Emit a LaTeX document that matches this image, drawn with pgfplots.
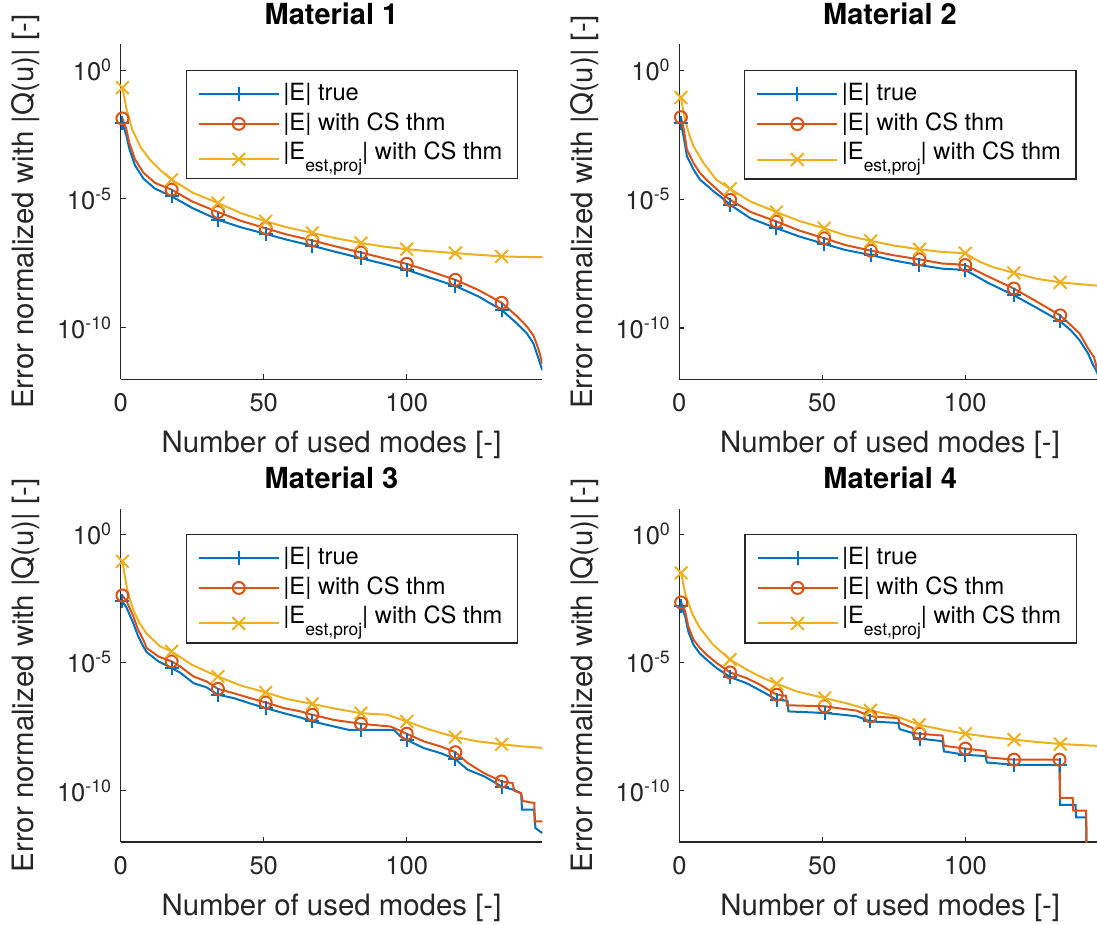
\documentclass[border=0pt]{standalone}
\usepackage{fontspec}
\setmainfont{TeX Gyre Heros}
\usepackage{pgfplots}
\pgfplotsset{compat=1.18}
\definecolor{mblue}{RGB}{0,114,189}
\definecolor{mred}{RGB}{217,83,25}
\definecolor{myel}{RGB}{237,177,32}
\definecolor{axcol}{RGB}{38,38,38}
\pgfplotsset{
  legend image code/.code={\draw[mark repeat=2,mark phase=2,#1] plot coordinates {(0pt,0pt) (40pt,0pt) (80pt,0pt)};},
  every axis/.append style={
    scale only axis,
    width=421.6pt,
    xmin=0, xmax=147.4,
    ymin=1e-12, ymax=10,
    axis x line*=bottom, axis y line*=left,
    axis line style={draw=axcol, line width=1.2pt},
    xtick={0,50,100}, xticklabels={0,50,100},
    ytick={1e-10,1e-5,1},
    yticklabels={10\textsuperscript{-10},10\textsuperscript{-5},10\textsuperscript{0}},
    xminorticks=false, yminorticks=false,
    tick align=inside, major tick length=5pt,
    every tick/.style={draw=axcol, line width=1.1pt},
    tick label style={font=\fontsize{25.5}{25.5}\selectfont, text=axcol},
    xticklabel style={yshift=-10.5pt},
    yticklabel style={xshift=-5.5pt},
    xlabel={Number of used modes [-]},
    ylabel={Error normalized with |Q(u)| [-]},
    label style={font=\fontsize{29.4}{30}\selectfont, text=axcol},
    xlabel style={at={(axis description cs:0.5,0)}, anchor=base, yshift=-73pt},
    ylabel style={at={(axis description cs:-0.2068,0.5)}, anchor=base},
    title style={font=\bfseries\fontsize{29}{30}\selectfont, at={(axis description cs:0.5,1)}, anchor=base, yshift=14pt},
    legend style={
      at={(axis description cs:0.9424,0.9233)}, anchor=north east,
      draw=axcol, line width=1.2pt, fill=white,
      font=\fontsize{23.7}{24}\selectfont,
      inner xsep=11.5pt, inner ysep=9.5pt,
      nodes={inner xsep=3.5pt, inner ysep=2.65pt, text height=17.8pt, text depth=5.2pt},
      row sep=1.3pt,
    },
    legend cell align=left,
  },
  linB/.style={color=mblue, line width=2pt, mark=none, forget plot},
  linR/.style={color=mred, line width=2pt, mark=none, forget plot},
  linY/.style={color=myel, line width=2pt, mark=none, forget plot},
  mrkB/.style={color=mblue, line width=2pt, only marks, mark=+, mark size=7pt, forget plot},
  mrkR/.style={color=mred, line width=2pt, only marks, mark=o, mark size=6pt, forget plot},
  mrkY/.style={color=myel, line width=2pt, only marks, mark=x, mark size=9pt, forget plot},
}
\newcommand{\legs}{%
  \addlegendimage{color=mblue, line width=2pt, mark=+, mark size=7pt}
  \addlegendentry{|E| true}
  \addlegendimage{color=mred, line width=2pt, mark=o, mark size=6pt}
  \addlegendentry{|E| with CS thm}
  \addlegendimage{color=myel, line width=2pt, mark=x, mark size=9pt, yshift=-5pt}
  \addlegendentry[text depth=7pt]{|E\raisebox{-11.5pt}{\fontsize{17.4}{17.4}\selectfont est,proj}| with CS thm}
}
\begin{document}
\begin{tikzpicture}
\useasboundingbox (0,0) rectangle (1097pt,924pt);
% ---------------- Material 1
\begin{axis}[ymode=log, anchor=south west, at={(120.7pt,544.7pt)}, height=335pt, title={Material 1}]
\addplot[linB] coordinates {(0.6,8.71e-3)(2,2.82e-3)(3,8.91e-4)(5,2.0e-4)(8,6.03e-5)(12,2.51e-5)(17.8,1.26e-5)(25,4.47e-6)(34,1.55e-6)(42,7.94e-7)(50.7,4.37e-7)(58,2.63e-7)(67,1.51e-7)(75,8.91e-8)(84,5.01e-8)(92,3.02e-8)(100,1.78e-8)(108,8.91e-9)(117,4.17e-9)(125,1.66e-9)(133.2,4.9e-10)(138.5,1.48e-10)(142,6.03e-11)(144.3,2.45e-11)(145.5,1e-11)(147.4,2.24e-12)};
\addplot[mrkB] coordinates {(0.6,8.71e-3)(17.8,1.26e-5)(34,1.55e-6)(50.7,4.37e-7)(67,1.51e-7)(84,5.01e-8)(100,1.78e-8)(117,4.17e-9)(133.2,4.9e-10)};
\addplot[linR] coordinates {(0.6,1.32e-2)(2,5.01e-3)(3,1.51e-3)(5,3.39e-4)(8,1.02e-4)(12,4.17e-5)(17.8,2.29e-5)(25,7.94e-6)(34,3.09e-6)(42,1.41e-6)(50.7,7.24e-7)(58,4.17e-7)(67,2.45e-7)(75,1.45e-7)(84,8.32e-8)(92,5.01e-8)(100,3.02e-8)(108,1.58e-8)(117,7.24e-9)(125,2.95e-9)(133.2,9.33e-10)(138.5,2.82e-10)(142,1.12e-10)(144.3,5.01e-11)(145.5,2.24e-11)(146.5,1e-11)(147.4,4.07e-12)};
\addplot[mrkR] coordinates {(0.6,1.32e-2)(17.8,2.29e-5)(34,3.09e-6)(50.7,7.24e-7)(67,2.45e-7)(84,8.32e-8)(100,3.02e-8)(117,7.24e-9)(133.2,9.33e-10)};
\addplot[linY] coordinates {(0.6,2.09e-1)(2,3.16e-2)(4,5.01e-3)(7,1e-3)(10,3.55e-4)(14,1.26e-4)(17.8,5.62e-5)(25,1.78e-5)(34,6.92e-6)(42,2.82e-6)(50.7,1.35e-6)(58,7.94e-7)(67,4.79e-7)(75,3.02e-7)(84,1.95e-7)(92,1.41e-7)(100,1.12e-7)(108,9.33e-8)(117,7.94e-8)(125,6.76e-8)(133.2,5.89e-8)(140,5.62e-8)(147.4,5.5e-8)};
\addplot[mrkY] coordinates {(0.6,2.09e-1)(17.8,5.62e-5)(34,6.92e-6)(50.7,1.35e-6)(67,4.79e-7)(84,1.95e-7)(100,1.12e-7)(117,7.94e-8)(133.2,5.89e-8)};
\legs
\end{axis}
% ---------------- Material 2
\begin{axis}[ymode=log, anchor=south west, at={(679.2pt,544.5pt)}, height=335pt, title={Material 2}]
\addplot[linB] coordinates {(0.6,9.12e-3)(1.6,2.51e-3)(2.7,4.57e-4)(5,1.41e-4)(7.3,5.62e-5)(10,3.16e-5)(12,2.0e-5)(15,1.12e-5)(17.8,6.03e-6)(25,1.78e-6)(34,7.41e-7)(42,3.55e-7)(50.7,1.82e-7)(58,1.07e-7)(67,6.76e-8)(75,4.17e-8)(84,2.75e-8)(92,2.0e-8)(97,1.86e-8)(100,1.78e-8)(108,5.62e-9)(117,1.86e-9)(125,6.03e-10)(133.2,1.82e-10)(137,7.94e-11)(140,3.31e-11)(143,1e-11)(144.5,4.07e-12)(145.8,2.24e-12)(147.4,7.94e-13)};
\addplot[mrkB] coordinates {(0.6,9.12e-3)(17.8,6.03e-6)(34,7.41e-7)(50.7,1.82e-7)(67,6.76e-8)(84,2.75e-8)(100,1.78e-8)(117,1.86e-9)(133.2,1.82e-10)};
\addplot[linR] coordinates {(0.6,1.51e-2)(1.6,5.01e-3)(2.7,8.32e-4)(5,2.51e-4)(7.3,1.02e-4)(10,5.01e-5)(12,3.16e-5)(15,1.58e-5)(17.8,9.33e-6)(25,3.16e-6)(34,1.35e-6)(42,6.03e-7)(50.7,3.02e-7)(58,1.66e-7)(67,1e-7)(75,6.61e-8)(84,4.57e-8)(92,3.16e-8)(97,2.95e-8)(100,2.75e-8)(108,1e-8)(117,3.39e-9)(125,1.05e-9)(133.2,3.09e-10)(137,1.26e-10)(140,6.03e-11)(143,1.58e-11)(145,7.41e-12)(145.8,3.47e-12)(147.4,1.26e-12)};
\addplot[mrkR] coordinates {(0.6,1.51e-2)(17.8,9.33e-6)(34,1.35e-6)(50.7,3.02e-7)(67,1e-7)(84,4.57e-8)(100,2.75e-8)(117,3.39e-9)(133.2,3.09e-10)};
\addplot[linY] coordinates {(0.6,8.71e-2)(2,1.26e-2)(3.5,3.16e-3)(5,1.12e-3)(8.5,2.51e-4)(13,5.62e-5)(17.8,2.51e-5)(25,7.94e-6)(34,3.16e-6)(42,1.41e-6)(50.7,7.41e-7)(58,3.98e-7)(67,2.4e-7)(75,1.58e-7)(84,1.12e-7)(92,8.91e-8)(100,7.94e-8)(105,3.72e-8)(110,2.24e-8)(117,1.38e-8)(125,8.13e-9)(133.2,5.89e-9)(140,5.01e-9)(147.4,4.27e-9)};
\addplot[mrkY] coordinates {(0.6,8.71e-2)(17.8,2.51e-5)(34,3.16e-6)(50.7,7.41e-7)(67,2.4e-7)(84,1.12e-7)(100,7.94e-8)(117,1.38e-8)(133.2,5.89e-9)};
\legs
\end{axis}
% ---------------- Material 3
\begin{axis}[ymode=log, anchor=south west, at={(120.7pt,82pt)}, height=333.5pt, title={Material 3}]
\addplot[linB] coordinates {(0.6,2.4e-3)(2,1.41e-3)(4.4,3.39e-4)(6,1.12e-4)(7.9,4.17e-5)(9.1,2.51e-5)(13.2,1.10e-5)(17.8,6.03e-6)(20.8,3.98e-6)(25.5,1.55e-6)(30,1.07e-6)(34,5.5e-7)(39.5,4.07e-7)(45.3,2.51e-7)(50.7,1.66e-7)(57,1.05e-7)(62.9,7.08e-8)(67,5.01e-8)(72,3.72e-8)(79.8,2.34e-8)(95.5,2.34e-8)(97.9,1.29e-8)(100,9.55e-9)(106,4.57e-9)(112,2.88e-9)(117,1.70e-9)(121.3,6.61e-10)(127.1,3.63e-10)(133.2,1.45e-10)(137.6,1.07e-10)(140,7.94e-11)(140.3,1.82e-11)(144.6,1.82e-11)(145,3.47e-12)(147.4,2.24e-12)};
\addplot[mrkB] coordinates {(0.6,2.4e-3)(17.8,6.03e-6)(34,5.5e-7)(50.7,1.66e-7)(67,5.01e-8)(84,2.34e-8)(100,9.55e-9)(117,1.70e-9)(133.2,1.45e-10)};
\addplot[linR] coordinates {(0.6,4.07e-3)(2,2.51e-3)(4.4,6.31e-4)(6,2.0e-4)(7.9,7.59e-5)(9.1,3.63e-5)(13.2,1.70e-5)(17.8,1.10e-5)(20.8,6.92e-6)(25.5,2.82e-6)(30,1.82e-6)(34,9.33e-7)(39.5,6.31e-7)(45.3,4.07e-7)(50.7,2.75e-7)(57,1.66e-7)(62.9,1.23e-7)(67,9.12e-8)(74.5,5.75e-8)(84,4.07e-8)(94.4,3.16e-8)(100,1.66e-8)(106,8.32e-9)(112,5.25e-9)(117,3.16e-9)(121.3,1.20e-9)(127.1,4.79e-10)(133.2,2.29e-10)(137,2.0e-10)(137.6,1e-10)(140,7.94e-11)(140.5,3.98e-11)(144.6,3.31e-11)(144.7,6.31e-12)(147.4,6.31e-12)};
\addplot[mrkR] coordinates {(0.6,4.07e-3)(17.8,1.10e-5)(34,9.33e-7)(50.7,2.75e-7)(67,9.12e-8)(84,4.07e-8)(100,1.66e-8)(117,3.16e-9)(133.2,2.29e-10)};
\addplot[linY] coordinates {(0.6,8.71e-2)(2,1e-2)(2.7,4.47e-3)(4.4,1.12e-3)(6.5,3.55e-4)(9,1.35e-4)(13.8,4.17e-5)(17.8,2.69e-5)(25,7.94e-6)(34,2.82e-6)(42,1.26e-6)(50.7,6.76e-7)(58,3.8e-7)(67,2.4e-7)(75,1.58e-7)(84,1.05e-7)(93.2,9.12e-8)(100,5.01e-8)(108,2.4e-8)(117,1.23e-8)(125,8.32e-9)(133.2,6.46e-9)(140,5.37e-9)(147.4,4.68e-9)};
\addplot[mrkY] coordinates {(0.6,8.71e-2)(17.8,2.69e-5)(34,2.82e-6)(50.7,6.76e-7)(67,2.4e-7)(84,1.05e-7)(100,5.01e-8)(117,1.23e-8)(133.2,6.46e-9)};
\legs
\end{axis}
% ---------------- Material 4
\begin{axis}[ymode=log, anchor=south west, at={(679.4pt,82pt)}, height=333.5pt, title={Material 4}]
\addplot[linB] coordinates {(0.6,1.55e-3)(2,6.31e-4)(3.1,1.62e-4)(4.9,4.9e-5)(7.2,2.19e-5)(9.5,1.29e-5)(13,6.03e-6)(17.7,2.69e-6)(23.5,1.55e-6)(28.2,8.13e-7)(34,3.55e-7)(37.8,3.16e-7)(38.1,1.23e-7)(50.8,1.07e-7)(58,8.91e-8)(62,7.94e-8)(66.8,5.01e-8)(76.5,4.37e-8)(77,2.51e-8)(81.5,1.78e-8)(82,1.17e-8)(84,1.07e-8)(92,8.51e-9)(92.5,3.39e-9)(100,2.51e-9)(107,2.24e-9)(107.5,1.26e-9)(117,1.02e-9)(132.9,1e-9)(133.1,2.82e-11)(138.5,2.82e-11)(138.7,9.12e-12)(142.2,9.12e-12)(142.4,1e-13)};
\addplot[mrkB] coordinates {(0.6,1.55e-3)(17.7,2.69e-6)(34,3.55e-7)(50.8,1.07e-7)(66.8,5.01e-8)(84,1.07e-8)(100,2.51e-9)(117,1.02e-9)(132.9,1e-9)};
\addplot[linR] coordinates {(0.6,2.19e-3)(2,1.0e-3)(3.1,2.57e-4)(4.9,7.76e-5)(7.2,3.63e-5)(9.5,2.0e-5)(13,9.55e-6)(17.7,4.07e-6)(23.5,2.45e-6)(28.2,1.35e-6)(34,5.5e-7)(37.3,5.01e-7)(37.6,2.14e-7)(50.8,1.95e-7)(58,1.51e-7)(62,1.32e-7)(66.8,7.94e-8)(76.5,6.76e-8)(77,4.47e-8)(81.5,2.82e-8)(82,1.78e-8)(84,1.66e-8)(92,1.41e-8)(92.5,5.62e-9)(100,4.37e-9)(107,3.55e-9)(107.5,2.0e-9)(117,1.62e-9)(132.9,1.62e-9)(133.1,5.25e-11)(137.5,5.25e-11)(137.7,1.66e-11)(142.2,1.66e-11)(142.4,1e-13)};
\addplot[mrkR] coordinates {(0.6,2.19e-3)(17.7,4.07e-6)(34,5.5e-7)(50.8,1.95e-7)(66.8,7.94e-8)(84,1.66e-8)(100,4.37e-9)(117,1.62e-9)(132.9,1.62e-9)};
\addplot[linY] coordinates {(0.6,3.09e-2)(2,5.01e-3)(3.1,2.09e-3)(4.9,6.31e-4)(7.2,2.19e-4)(11.8,4.9e-5)(17.7,1.29e-5)(23.5,5.25e-6)(29.3,2.45e-6)(34,1.48e-6)(41,7.41e-7)(50.8,4.07e-7)(58.4,2.57e-7)(66.8,1.35e-7)(75.9,7.94e-8)(83.8,3.72e-8)(93.3,2.24e-8)(100,1.66e-8)(108,1.26e-8)(117,9.77e-9)(125,7.94e-9)(133.2,6.61e-9)(140,6.03e-9)(147.4,5.5e-9)};
\addplot[mrkY] coordinates {(0.6,3.09e-2)(17.7,1.29e-5)(34,1.48e-6)(50.8,4.07e-7)(66.8,1.35e-7)(83.8,3.72e-8)(100,1.66e-8)(117,9.77e-9)(133.2,6.61e-9)};
\legs
\end{axis}
\end{tikzpicture}
\end{document}
